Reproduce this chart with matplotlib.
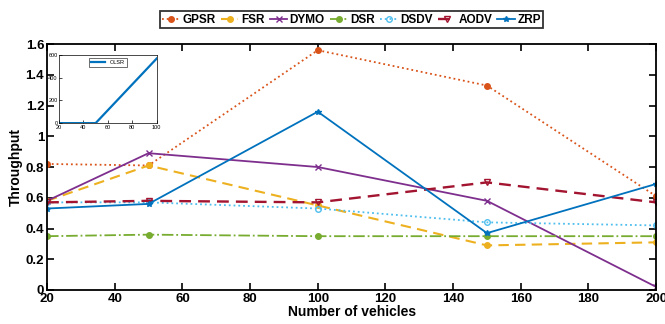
import numpy as np
import matplotlib.pyplot as plt

# === data ===
vehicles = [20, 50, 100, 150, 200]
gpsr = [0.82, 0.81, 1.56, 1.33, 0.61]
fsr = [0.58, 0.81, 0.55, 0.29, 0.31]
dymo = [0.58, 0.89, 0.80, 0.58, 0.02]
dsr = [0.35, 0.36, 0.35, 0.35, 0.35]
dsdv = [0.57, 0.57, 0.53, 0.44, 0.42]
aodv = [0.57, 0.58, 0.57, 0.70, 0.57]
zrp = [0.53, 0.56, 1.16, 0.37, 0.69]

olsr_x = [20, 50, 100]
olsr_y = [0, 0, 570]

# matlab default colours
c_blue = (0, 0.447, 0.741)
c_orange = (0.85, 0.325, 0.098)
c_yellow = (0.929, 0.694, 0.125)
c_purple = (0.494, 0.184, 0.556)
c_green = (0.466, 0.674, 0.188)
c_lblue = (0.301, 0.745, 0.933)
c_red = (0.635, 0.078, 0.184)

plt.rcParams['font.family'] = ['Liberation Sans', 'DejaVu Sans']
plt.rcParams['font.weight'] = 'bold'

fig = plt.figure(figsize=(6.65, 3.24), dpi=100)
ax = fig.add_axes([0.0707, 0.105, 0.916, 0.759])

lw = 1.3
ax.plot(vehicles, gpsr, ':', color=c_orange, marker='o', ms=4, lw=lw, label='GPSR')
ax.plot(vehicles, fsr, '--', color=c_yellow, marker='o', ms=4, lw=lw + 0.2, label='FSR', dashes=(5, 3))
ax.plot(vehicles, dymo, '-', color=c_purple, marker='x', ms=4, lw=lw, label='DYMO')
ax.plot(vehicles, dsr, '-.', color=c_green, marker='o', ms=4, lw=lw, label='DSR')
ax.plot(vehicles, dsdv, ':', color=c_lblue, marker='o', ms=4, mfc='none', lw=lw, label='DSDV')
ax.plot(vehicles, aodv, '--', color=c_red, marker='v', ms=5, mfc='none', lw=lw + 0.4, label='AODV', dashes=(5, 3))
ax.plot(vehicles, zrp, '-', color=c_blue, marker='*', ms=4, lw=lw, label='ZRP')

ax.set_xlim(20, 200)
ax.set_ylim(0, 1.6)
ax.set_xticks(range(20, 201, 20))
ax.set_yticks([0, 0.2, 0.4, 0.6, 0.8, 1.0, 1.2, 1.4, 1.6])
ax.set_yticklabels(['0', '0.2', '0.4', '0.6', '0.8', '1', '1.2', '1.4', '1.6'])
ax.tick_params(direction='in', top=True, right=True, labelsize=9.5, length=5, width=1.2, pad=2)
for s in ax.spines.values():
    s.set_linewidth(1.3)
ax.set_xlabel('Number of vehicles', fontsize=10, fontweight='bold', labelpad=0)
ax.set_ylabel('Throughput', fontsize=10, fontweight='bold', labelpad=2)

leg = ax.legend(loc='lower center', bbox_to_anchor=(0.5, 1.065), ncol=7, fontsize=8.5,
                frameon=True, fancybox=False, edgecolor='black', handlelength=1.5,
                handletextpad=0.2, columnspacing=0.45, borderpad=0.2, borderaxespad=0)
leg.get_frame().set_linewidth(1.3)

# inset
ins = fig.add_axes([0.0887, 0.62, 0.147, 0.21])
ins.plot(olsr_x, olsr_y, '-', color=c_blue, lw=1.6, label='OLSR')
ins.set_xlim(20, 100)
ins.set_ylim(0, 600)
ins.set_xticks([20, 40, 60, 80, 100])
ins.set_yticks([0, 200, 400, 600])
ins.tick_params(direction='in', labelsize=4, length=2, width=0.5, pad=1)
for lab in ins.get_xticklabels() + ins.get_yticklabels():
    lab.set_fontweight('normal')
for s in ins.spines.values():
    s.set_linewidth(0.5)
ileg = ins.legend(loc='upper center', fontsize=4, frameon=True, fancybox=False,
                  edgecolor='black', handlelength=2.5, borderpad=0.4)
ileg.get_frame().set_linewidth(0.5)
for t in ileg.get_texts():
    t.set_fontweight('normal')

fig.savefig('out.png', dpi=100)
